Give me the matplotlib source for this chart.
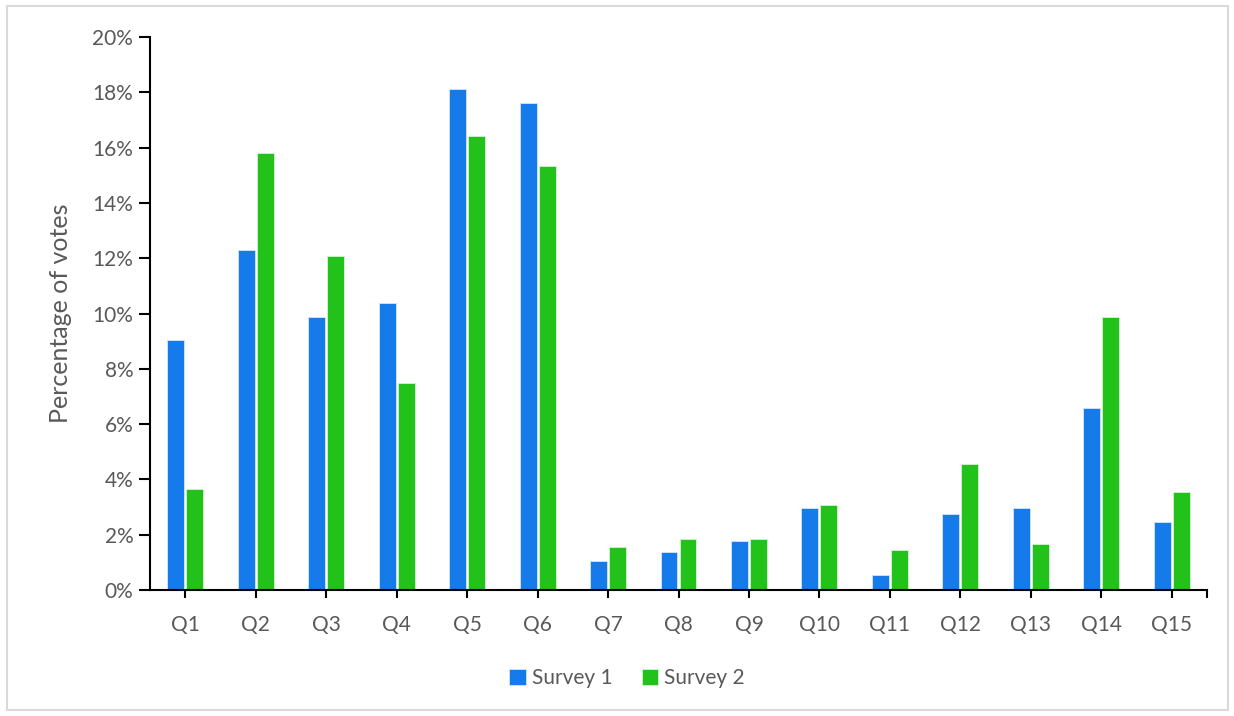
import numpy as np
import matplotlib
matplotlib.use("Agg")
import matplotlib.pyplot as plt
from matplotlib.ticker import PercentFormatter, FixedLocator
from matplotlib.patches import Rectangle

questions = ["Q1", "Q2", "Q3", "Q4", "Q5", "Q6", "Q7", "Q8", "Q9", "Q10",
             "Q11", "Q12", "Q13", "Q14", "Q15"]
survey1 = [9.05, 12.3, 9.88, 10.39, 18.13, 17.63, 1.05, 1.36, 1.76, 2.95,
           0.54, 2.76, 2.95, 6.57, 2.45]
survey2 = [3.65, 15.8, 12.09, 7.47, 16.42, 15.32, 1.55, 1.86, 1.86, 3.06,
           1.45, 4.56, 1.65, 9.88, 3.56]

blue = "#157AEA"
green = "#22C21A"
grey = "#595959"

plt.rcParams["font.family"] = ["Lato", "DejaVu Sans"]

fig = plt.figure(figsize=(12.34, 7.16), dpi=100)
ax = fig.add_axes([150 / 1234, 1 - 590 / 716, 1057 / 1234, 553 / 716])

x = np.arange(len(questions))
w = 0.24
ax.bar(x - 0.135, survey1, w, color=blue, edgecolor="#d6e6fb", linewidth=0.6, label="Survey 1")
ax.bar(x + 0.135, survey2, w, color=green, edgecolor="#d4f2d2", linewidth=0.6, label="Survey 2")

ax.set_xlim(-0.5, 14.5)
ax.set_ylim(0, 20)
ax.set_yticks(np.arange(0, 21, 2))
ax.yaxis.set_major_formatter(PercentFormatter(decimals=0))
ax.set_xticks(x)
ax.set_xticklabels(questions)
# Excel-style tick at the right end of the category axis
ax.xaxis.set_minor_locator(FixedLocator([14.5]))

for s in ["top", "right"]:
    ax.spines[s].set_visible(False)
for s in ["left", "bottom"]:
    ax.spines[s].set_linewidth(1.5)
    ax.spines[s].set_color("black")

ax.tick_params(axis="y", direction="out", length=8, width=1.5, colors="black",
               labelcolor=grey, labelsize=15, pad=4)
ax.tick_params(axis="x", which="both", direction="out", length=6, width=1.5, colors="black",
               labelcolor=grey, labelsize=15, pad=12)

ax.set_ylabel("Percentage of votes", fontsize=18, color=grey)
ax.yaxis.set_label_coords(-0.074, 0.5)

fig.legend(loc="center", bbox_to_anchor=(627 / 1234, 1 - 678 / 716), ncol=2,
           frameon=False, fontsize=15, labelcolor=grey, handlelength=0.8,
           handleheight=0.8, handletextpad=0.3, columnspacing=1.4)

# light frame around the whole chart
fig.patches.append(Rectangle((7 / 1234, 6 / 716), 1221 / 1234, 704 / 716,
                             transform=fig.transFigure, fill=False,
                             edgecolor="#D9D9D9", linewidth=1.5))

fig.savefig("out.png", dpi=100)
